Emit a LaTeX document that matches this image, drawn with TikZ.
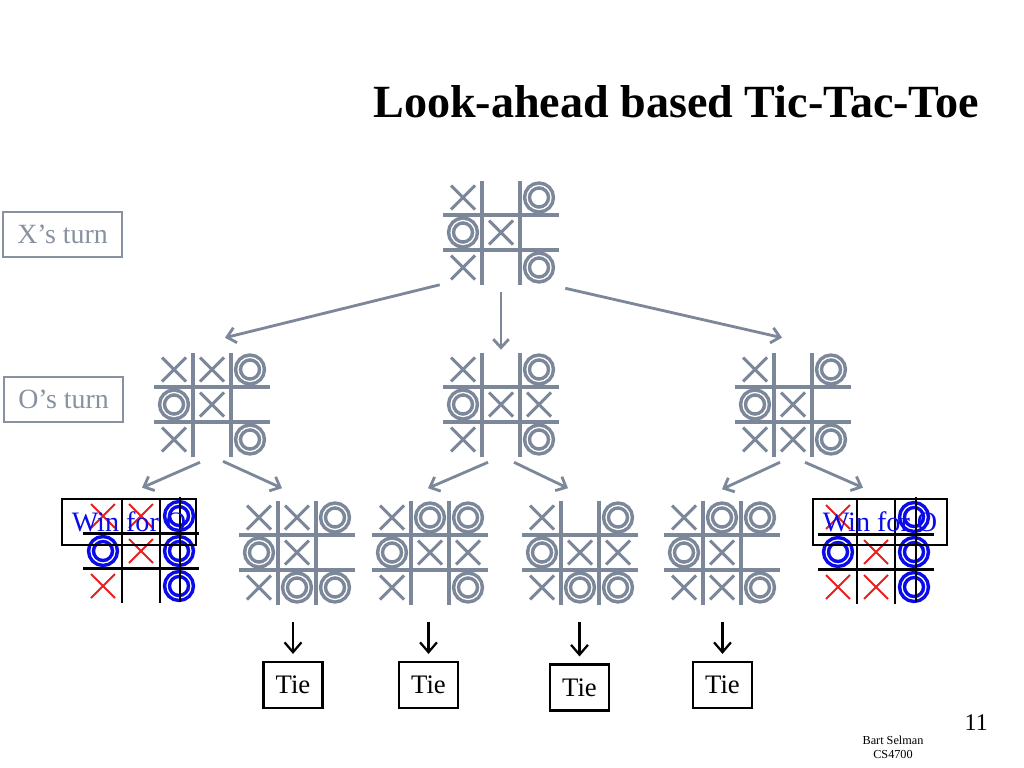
\documentclass[tikz,border=0pt]{standalone}
\usepackage{fontspec}
\setmainfont{Liberation Serif}
\usepackage{xcolor}
\definecolor{slate}{RGB}{124,136,154}
\definecolor{labelgray}{RGB}{135,145,160}
\definecolor{oblue}{RGB}{10,10,235}
\definecolor{xred}{RGB}{235,30,30}
\usetikzlibrary{arrows.meta,calc}

% board: name, centre, palette, X cells, O cells (col/row in -1..1)
\newcommand{\tttboard}[5]{%
	\node[boardbox] (#1) at (#2) {};
	\begin{scope}[shift={(#2)}]
		\foreach \gx in {-19,19} \draw[#3 grid] (\gx,-52) -- (\gx,52);
		\foreach \gy in {-17.5,17.5} \draw[#3 grid] (-58,\gy) -- (58,\gy);
		\foreach \c/\r in {#4} \draw[#3 x] ({38*\c-12},{35*\r-12}) -- ++(24,24) ({38*\c-12},{35*\r+12}) -- ++(24,-24);
		\foreach \c/\r in {#5} \draw[#3 o] ({38*\c},{35*\r}) circle[radius=0.3cm];
	\end{scope}}

\begin{document}
\begin{tikzpicture}[x=0.025cm,y=-0.025cm,
	boardbox/.style={minimum width=2.9cm,minimum height=2.6cm,inner sep=0pt},
	plain grid/.style={slate,line width=2.3pt},
	plain x/.style={slate,line width=2.1pt},
	plain o/.style={slate,line width=2.5pt,double=white,double distance=0.9pt},
	win grid/.style={black,line width=2pt},
	win x/.style={xred,line width=1.4pt},
	win o/.style={oblue,line width=2.5pt,double=white,double distance=0.9pt},
	turnbox/.style={draw=labelgray,line width=1.8pt,text=labelgray,font=\fontsize{19.8}{24}\selectfont,minimum width=2.975cm,minimum height=1.125cm,inner sep=0pt},
	tiebox/.style={draw=black,line width=1.8pt,font=\fontsize{19}{23}\selectfont,minimum width=1.475cm,minimum height=1.15cm,inner sep=0pt},
	winbox/.style={draw=black,line width=1.8pt,text=oblue,font=\fontsize{20}{24}\selectfont,minimum width=3.35cm,minimum height=1.15cm,inner sep=0pt},
	grayarrow/.style={slate,line width=2pt,-{Straight Barb[length=6pt,width=11pt]}},
	tiearrow/.style={black,line width=1.6pt,-{Straight Barb[length=7pt,width=12pt]},shorten <=0.44cm,shorten >=0.17cm}]
	% page
	\fill[white] (0,0) rectangle (1024,768);
	\useasboundingbox (0,0) rectangle (1024,768);
	
	% title and footer
	\node[anchor=base west,inner sep=0pt,font=\fontsize{32.8}{38}\selectfont\bfseries] (title) at (373,118) {Look-ahead based Tic-Tac-Toe};
	\node[anchor=base east,inner sep=0pt,font=\fontsize{17}{20}\selectfont] (pagenum) at (988,730) {11};
	\node[align=center,inner sep=0pt,font=\fontsize{8.7}{10}\selectfont] (footer) at (893,747) {Bart Selman\\CS4700};
	
	% turn labels
	\node[turnbox] (xturn) at (62.5,234.5) {X’s turn};
	\node[turnbox] (oturn) at (63.5,399.5) {O’s turn};
	
	% draw boards
	\tttboard{r}{501,232.5}{plain}{-1/-1,0/0,-1/1}{1/-1,-1/0,1/1}
	\tttboard{ba}{212,404.5}{plain}{-1/-1,0/-1,0/0,-1/1}{1/-1,-1/0,1/1}
	\tttboard{bb}{501,404.5}{plain}{-1/-1,0/0,1/0,-1/1}{1/-1,-1/0,1/1}
	\tttboard{bc}{793,404.5}{plain}{-1/-1,0/0,-1/1,0/1}{1/-1,-1/0,1/1}
	\tttboard{wl}{141,551}{win}{-1/-1,0/-1,0/0,-1/1}{1/-1,-1/0,1/0,1/1}
	\tttboard{c1}{297,552.5}{plain}{-1/-1,0/-1,0/0,-1/1}{1/-1,-1/0,0/1,1/1}
	\tttboard{c2}{430,552.5}{plain}{-1/-1,0/0,1/0,-1/1}{0/-1,1/-1,-1/0,1/1}
	\tttboard{c3}{580,552.5}{plain}{-1/-1,0/0,1/0,-1/1}{1/-1,-1/0,0/1,1/1}
	\tttboard{c4}{722,552.5}{plain}{-1/-1,0/0,-1/1,0/1}{0/-1,1/-1,-1/0,1/1}
	\tttboard{wr}{876,552}{win}{-1/-1,0/0,-1/1,0/1}{1/-1,-1/0,1/0,1/1}
	
	% winning column
	\draw[win grid] ($(wl)+(39,-54)$) -- ($(wl)+(39,51)$);
	\draw[win grid] ($(wr)+(40,-55)$) -- ($(wr)+(40,50)$);
	\node[winbox] (winl) at (129,522) {Win for O};
	\node[winbox] (winr) at (880,522) {Win for O};
	
	% arrows
	\draw[grayarrow] ($(r.south west)+(-3,0)$) -- ($(ba.north)+(13,-14.5)$);
	\draw[grayarrow] ($(r.south)+(0,7.5)$) -- ($(bb.north)+(0,-2.5)$);
	\draw[grayarrow] ($(r.south east)+(6,3.5)$) -- ($(bc.north)+(-11,-14.5)$);
	\draw[grayarrow] ($(ba.south)+(-12,5.5)$) -- ($(wl.north)+(1,-11)$);
	\draw[grayarrow] ($(ba.south)+(11,4.5)$) -- ($(c1.north)+(-15,-12)$);
	\draw[grayarrow] ($(bb.south)+(-13,5.5)$) -- ($(c2.north)+(-2,-12)$);
	\draw[grayarrow] ($(bb.south)+(13,5.5)$) -- ($(c3.north)+(-12,-12)$);
	\draw[grayarrow] ($(bc.south)+(-13,5.5)$) -- ($(c4.north)+(0,-11)$);
	\draw[grayarrow] ($(bc.south)+(12,5.5)$) -- ($(wr.north)+(-13,-12)$);
	
	% ties
	\node[tiebox] (t1) at (293,685) {Tie};
	\node[tiebox] (t2) at (428.5,685) {Tie};
	\node[tiebox] (t3) at (579.5,687.5) {Tie};
	\node[tiebox] (t4) at (722.5,685) {Tie};
	\draw[tiearrow] (c1.south -| t1.north) -- (t1.north);
	\draw[tiearrow] (c2.south -| t2.north) -- (t2.north);
	\draw[tiearrow] (c3.south -| t3.north) -- (t3.north);
	\draw[tiearrow] (c4.south -| t4.north) -- (t4.north);
\end{tikzpicture}
\end{document}
